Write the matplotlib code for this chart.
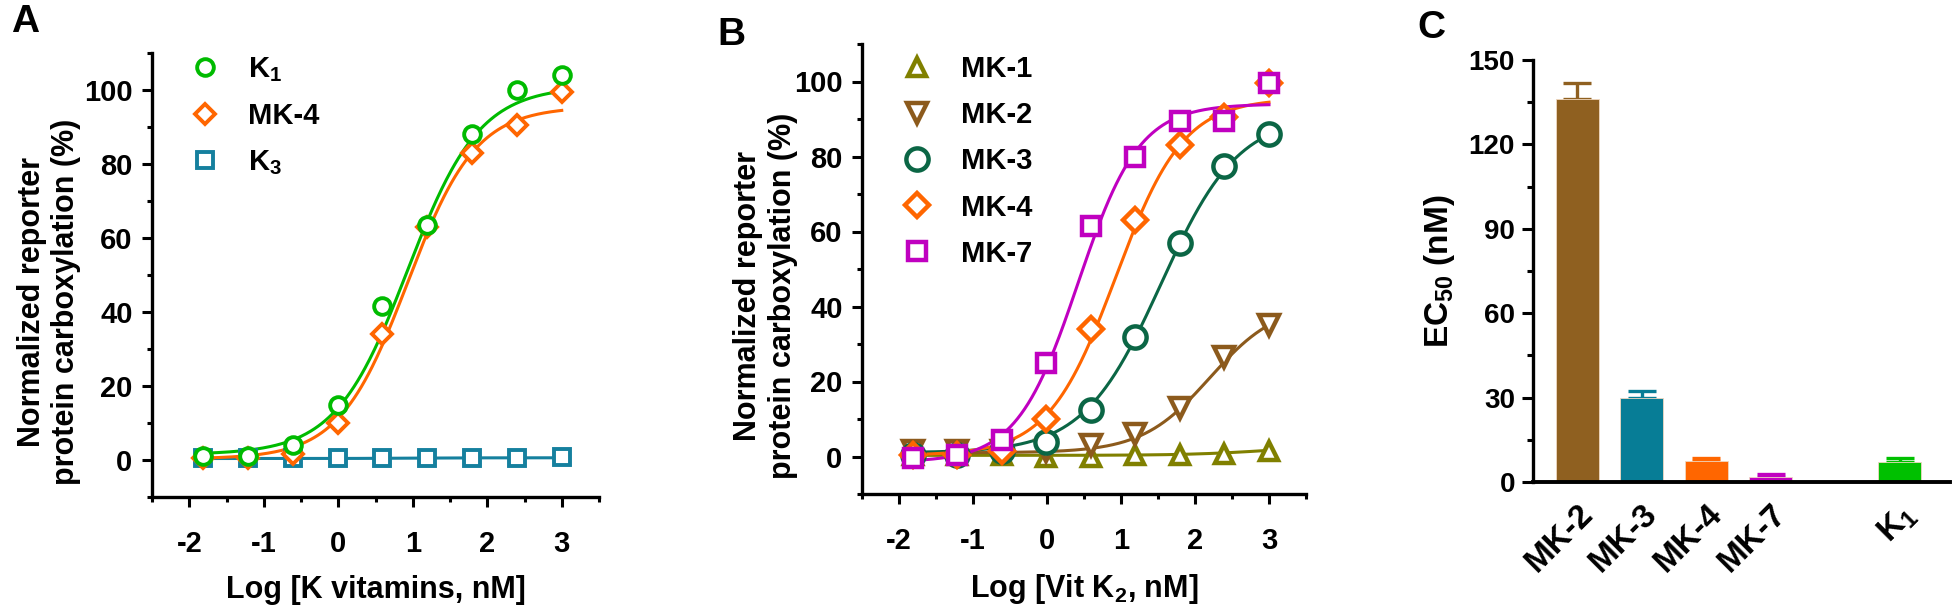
import numpy as np
import matplotlib
matplotlib.use("Agg")
import matplotlib.pyplot as plt
from matplotlib.ticker import MultipleLocator

plt.rcParams['font.family'] = ['Liberation Sans', 'DejaVu Sans']
plt.rcParams['font.weight'] = 'bold'
plt.rcParams['mathtext.fontset'] = 'custom'
plt.rcParams['mathtext.rm'] = 'Liberation Sans:bold'
plt.rcParams['mathtext.bf'] = 'Liberation Sans:bold'
plt.rcParams['mathtext.it'] = 'Liberation Sans:bold'
plt.rcParams['mathtext.default'] = 'bf'
plt.rcParams['axes.unicode_minus'] = False

# log concentrations (nM), 4-fold dilutions from 1000 nM
log_conc = [-1.816, -1.214, -0.612, -0.010, 0.592, 1.194, 1.796, 2.398, 3.0]

# panel A: K vitamins
a_k1 = [1.0, 1.0, 4.0, 15.0, 41.5, 63.5, 88.0, 100.0, 104.0]
a_mk4 = [0.5, 0.5, 1.5, 10.0, 34.0, 63.0, 83.0, 90.5, 99.5]
a_k3 = [0.5, 0.5, 0.5, 0.5, 0.5, 0.5, 0.5, 0.5, 0.8]

# panel B: menaquinones
b_mk1 = [0.5, 0.5, 0.3, 0.0, 0.0, 0.3, 0.5, 0.8, 1.5]
b_mk2 = [1.5, 1.5, 1.5, 1.5, 3.0, 6.0, 13.0, 26.5, 35.0]
b_mk3 = [0.5, 0.5, 1.5, 4.0, 12.5, 32.0, 57.0, 77.5, 86.0]
b_mk4 = [0.5, 0.5, 1.5, 10.0, 34.0, 63.0, 83.0, 90.5, 99.5]
b_mk7 = [-0.5, 0.5, 4.5, 25.0, 61.5, 80.0, 89.5, 89.5, 99.5]

# fitted dose-response parameters: bottom, top, logEC50, hill
fit_a = {'K1': [1.5, 101.0, 0.93, 0.90],
         'MK-4': [0.3, 95.5, 0.93, 0.95],
         'K3': [0.4, 0.6, 1.0, 1.0]}
fit_b = {'MK-1': [0.3, 3.0, 3.0, 0.8],
         'MK-2': [1.0, 41.0, 2.2, 0.95],
         'MK-3': [1.0, 91.0, 1.54, 0.83],
         'MK-4': [0.3, 95.5, 0.93, 0.95],
         'MK-7': [-1.5, 94.0, 0.42, 1.05]}

# panel C: EC50
c_names = ['MK-2', 'MK-3', 'MK-4', 'MK-7', 'K$_1$']
c_pos = [0, 1, 2, 3, 5]
c_ec50 = [136.0, 30.0, 7.5, 1.9, 7.1]
c_err = [6.0, 2.3, 1.1, 0.9, 1.5]

GREEN = '#00BB00'
ORANGE = '#FF6600'
TEAL = '#15809E'
OLIVE = '#808000'
BROWN = '#8C5A1C'
DKGREEN = '#0B6645'
MAGENTA = '#C000C0'


def fourpl(x, p):
    bottom, top, ec, hill = p
    return bottom + (top - bottom) / (1 + 10 ** ((ec - x) * hill))


W, H = 1954, 610
fig = plt.figure(figsize=(W / 100, H / 100), dpi=100)


def rect(l, r, t, b):
    return [l / W, (H - b) / H, (r - l) / W, (b - t) / H]


def style_curve_axes(ax, labx):
    for s in ['top', 'right']:
        ax.spines[s].set_visible(False)
    for s in ['left', 'bottom']:
        ax.spines[s].set_linewidth(2.4)
    ax.set_xlim(-2.5, 3.5)
    ax.set_ylim(-10, 110)
    ax.xaxis.set_major_locator(MultipleLocator(1))
    ax.xaxis.set_minor_locator(MultipleLocator(0.5))
    ax.yaxis.set_minor_locator(MultipleLocator(10))
    ax.set_yticks([0, 20, 40, 60, 80, 100])
    ax.tick_params(axis='both', which='major', direction='out', length=7, width=2.2, labelsize=21)
    ax.tick_params(axis='both', which='minor', direction='out', length=3.8, width=2.2)
    ax.tick_params(axis='x', which='major', pad=17)
    ax.tick_params(axis='y', which='major', pad=7)
    ax.set_ylabel('Normalized reporter\nprotein carboxylation (%)', fontsize=22,
                  fontweight='bold', linespacing=1.2)
    ax.yaxis.set_label_coords(labx, 0.44)


xs = np.linspace(-1.816, 3.0, 300)

# ---- panel A
axA = fig.add_axes(rect(152, 599, 53, 497))
style_curve_axes(axA, -0.158)
series_a = [('K3', a_k3, TEAL, 's', 'K$_3$'),
            ('MK-4', a_mk4, ORANGE, 'D', 'MK-4'),
            ('K1', a_k1, GREEN, 'o', 'K$_1$')]
handles = {}
for key, vals, col, mk, lab in series_a:
    axA.plot(xs, fourpl(xs, fit_a[key]), color=col, lw=2.2, zorder=2)
    ms = {'D': 10, 's': 11, 'o': 12}[mk]
    h, = axA.plot(log_conc, vals, ls='none', marker=mk, ms=ms, mew=2.8,
                  mfc='white', mec=col, label=lab, zorder=3)
    handles[key] = h
axA.legend(handles=[handles['K1'], handles['MK-4'], handles['K3']],
           loc='upper left', bbox_to_anchor=(0.085, 0.995), frameon=False,
           fontsize=21, handlelength=1.0, handletextpad=1.0, labelspacing=0.62,
           borderaxespad=0, borderpad=0)
axA.set_xlabel('Log [K vitamins, nM]', fontsize=22, fontweight='bold', labelpad=12)

# ---- panel B
axB = fig.add_axes(rect(862, 1306, 44, 494))
style_curve_axes(axB, -0.145)
series_b = [('MK-1', b_mk1, OLIVE, '^'),
            ('MK-2', b_mk2, BROWN, 'v'),
            ('MK-3', b_mk3, DKGREEN, 'o'),
            ('MK-4', b_mk4, ORANGE, 'D'),
            ('MK-7', b_mk7, MAGENTA, 's')]
hb = []
for key, vals, col, mk in series_b:
    axB.plot(xs, fourpl(xs, fit_b[key]), color=col, lw=2.2, zorder=2)
    ms = {'D': 12, 's': 13.5, 'o': 16, '^': 13, 'v': 15}[mk]
    h, = axB.plot(log_conc, vals, ls='none', marker=mk, ms=ms, mew=3.2,
                  mfc='white', mec=col, label=key, zorder=3)
    hb.append(h)
axB.legend(handles=hb, loc='upper left', bbox_to_anchor=(0.092, 0.975), frameon=False,
           fontsize=21, handlelength=1.0, handletextpad=1.0, labelspacing=0.62,
           borderaxespad=0, borderpad=0)
axB.set_xlabel('Log [Vit K$_2$, nM]', fontsize=22, fontweight='bold', labelpad=12)

# ---- panel C
axC = fig.add_axes(rect(1533, 1950, 60, 482))
bar_cols = ['#8F6020', '#077D96', ORANGE, MAGENTA, '#00C000']
axC.bar(c_pos, c_ec50, width=0.667, color=bar_cols, edgecolor='#f0d8c0', linewidth=0.6, zorder=2)
for x, v, e, col in zip(c_pos, c_ec50, c_err, bar_cols):
    axC.errorbar([x], [v], yerr=[[0], [e]], fmt='none', ecolor=col, elinewidth=2.4,
                 capsize=10, capthick=2.4, zorder=1)
for s in ['top', 'right']:
    axC.spines[s].set_visible(False)
axC.spines['left'].set_linewidth(2.4)
axC.spines['bottom'].set_linewidth(2.8)
axC.set_xlim(-0.69, 5.78)
axC.set_ylim(0, 150)
axC.yaxis.set_major_locator(MultipleLocator(30))
axC.yaxis.set_minor_locator(MultipleLocator(15))
axC.set_xticks(c_pos)
axC.set_xticklabels(c_names, rotation=45, ha='right', rotation_mode='anchor', fontsize=24)
axC.tick_params(axis='x', length=0, pad=12)
axC.tick_params(axis='y', which='major', direction='out', length=8, width=2.2, labelsize=20, pad=5)
axC.tick_params(axis='y', which='minor', direction='out', length=4, width=2.2)
axC.set_ylabel('EC$_{50}$ (nM)', fontsize=24, fontweight='bold', labelpad=8)

# panel letters
fig.text(25 / W, 1 - 22 / H, 'A', fontsize=28, fontweight='bold', ha='center', va='center')
fig.text(731 / W, 1 - 35 / H, 'B', fontsize=28, fontweight='bold', ha='center', va='center')
fig.text(1431 / W, 1 - 28 / H, 'C', fontsize=28, fontweight='bold', ha='center', va='center')

fig.savefig('out.png', dpi=100)
